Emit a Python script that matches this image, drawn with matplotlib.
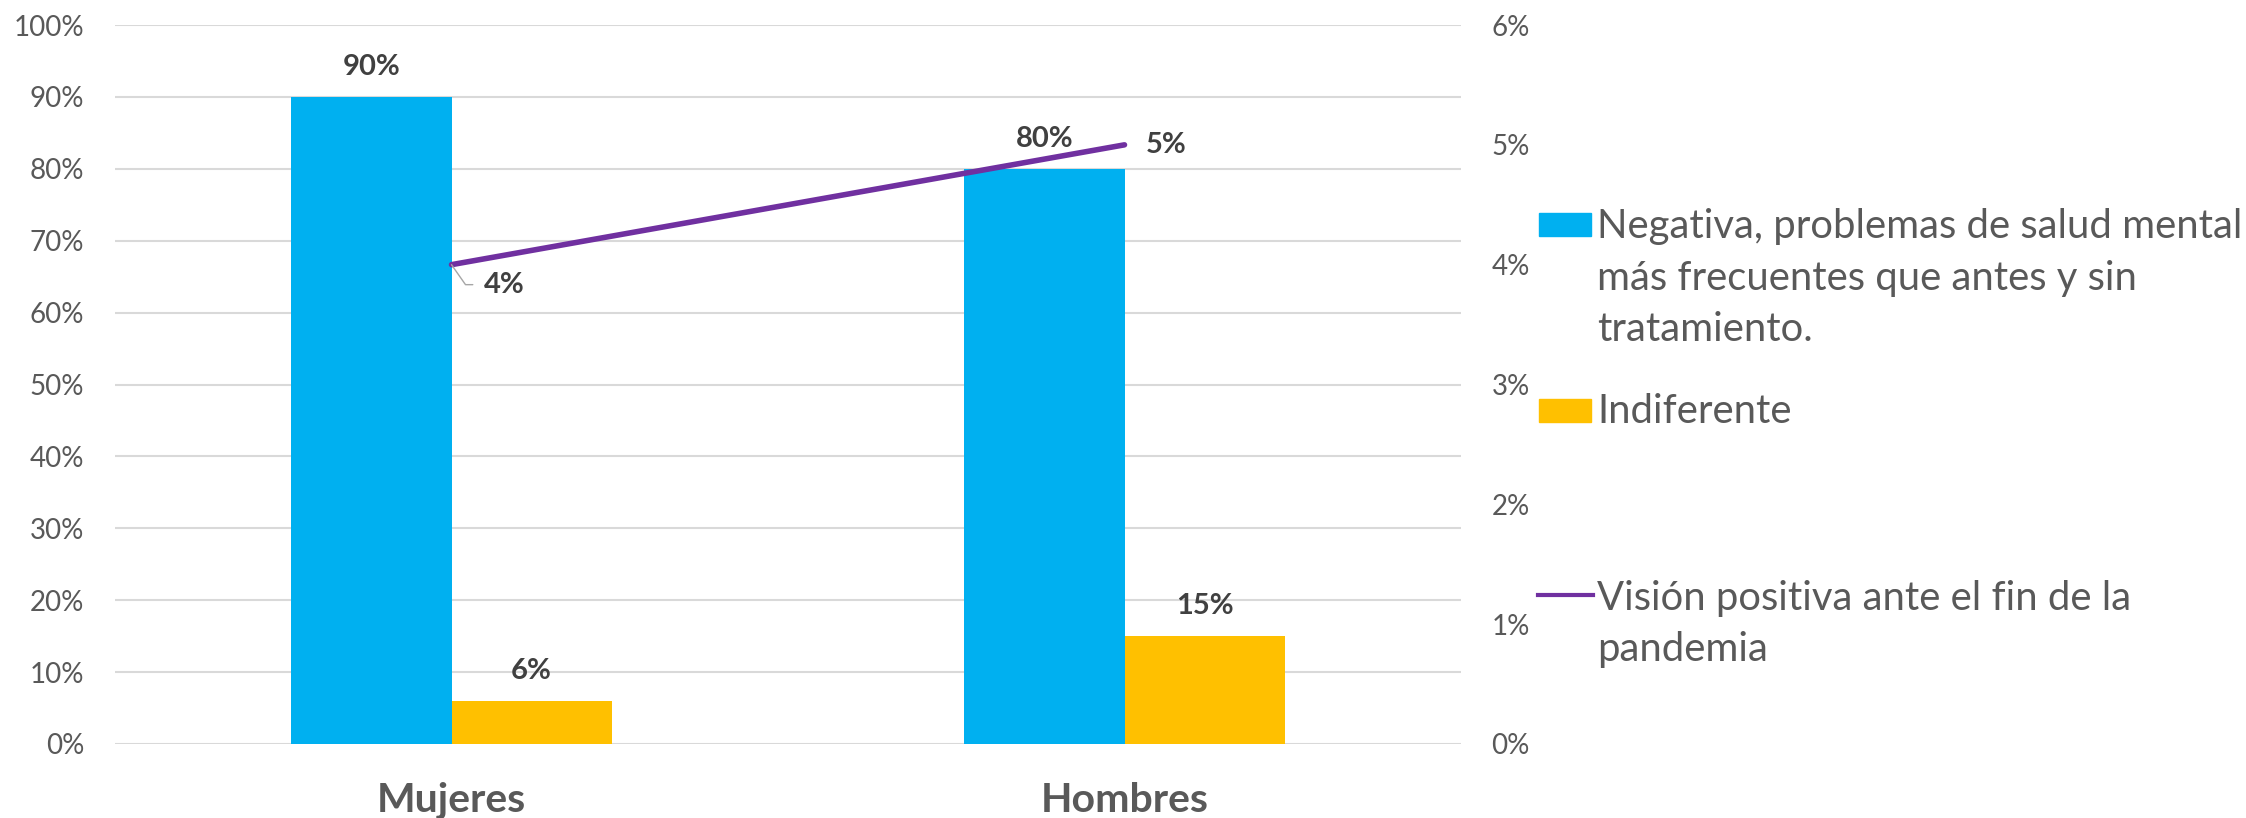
import numpy as np
import matplotlib
matplotlib.use('Agg')
import matplotlib.pyplot as plt
from matplotlib.patches import Rectangle
from matplotlib.lines import Line2D
from matplotlib.ticker import PercentFormatter

plt.rcParams['font.family'] = ['Lato', 'DejaVu Sans']

# data
categories = ['Mujeres', 'Hombres']
negativa = [0.90, 0.80]
indiferente = [0.06, 0.15]
vision_positiva = [0.04, 0.05]
series_names = ['Negativa, problemas de salud mental\nmás frecuentes que antes y sin\ntratamiento.',
                'Indiferente',
                'Visión positiva ante el fin de la\npandemia']

blue = '#00B0F0'
yellow = '#FFC000'
purple = '#7030A0'
grey_txt = '#595959'
lbl_txt = '#404040'

W, H = 2246, 818
fig = plt.figure(figsize=(W / 100, H / 100), dpi=100)
ax = fig.add_axes([115 / W, 1 - 744 / H, (1461 - 115) / W, (744 - 25) / H])

x = np.arange(len(categories))
bw = 0.238
b1 = ax.bar(x - bw / 2, negativa, bw, color=blue, zorder=2)
b2 = ax.bar(x + bw / 2, indiferente, bw, color=yellow, zorder=2)

ax.set_xlim(-0.5, 1.5)
ax.set_ylim(0, 1.0)
ax.set_yticks(np.arange(0, 1.01, 0.1))
ax.yaxis.set_major_formatter(PercentFormatter(1.0, decimals=0))
ax.grid(axis='y', color='#D9D9D9', lw=1.5, zorder=0)
ax.set_xticks(x)
ax.set_xticklabels(categories, fontsize=29.5, fontweight='bold', color=grey_txt)
ax.tick_params(axis='x', length=0, pad=27)
ax.tick_params(axis='y', length=0, pad=22, labelsize=20, labelcolor=grey_txt)
for s in ax.spines.values():
    s.set_visible(False)

for bars in (b1, b2):
    for r in bars:
        h = r.get_height()
        ax.annotate(f'{h:.0%}', (r.get_x() + r.get_width() / 2, h),
                    xytext=(0, 21.6), textcoords='offset points',
                    ha='center', va='center', fontsize=21,
                    fontweight='bold', color=lbl_txt)

ax2 = ax.twinx()
ax2.plot(x, vision_positiva, color=purple, lw=4, solid_capstyle='round', zorder=3)
ax2.set_ylim(0, 0.06)
ax2.set_yticks(np.arange(0, 0.061, 0.01))
ax2.yaxis.set_major_formatter(PercentFormatter(1.0, decimals=0))
ax2.tick_params(axis='y', length=0, pad=22, labelsize=20, labelcolor=grey_txt)
for s in ax2.spines.values():
    s.set_visible(False)

ax2.annotate(f'{vision_positiva[0]:.0%}', (x[0], vision_positiva[0]),
             xytext=(38, -14.4), textcoords='offset points',
             ha='center', va='center', fontsize=21, fontweight='bold', color=lbl_txt,
             arrowprops=dict(arrowstyle='-', color='#A6A6A6', lw=1,
                             connectionstyle='angle,angleA=0,angleB=-55',
                             relpos=(0, 0.5), shrinkA=6, shrinkB=0))
ax2.annotate(f'{vision_positiva[1]:.0%}', (x[1], vision_positiva[1]),
             xytext=(30, 0), textcoords='offset points',
             ha='center', va='center', fontsize=21, fontweight='bold', color=lbl_txt)

# legend drawn by hand to match the layout
def fx(px):
    return px / W

def fy(py):
    return 1 - py / H

fig.add_artist(Rectangle((fx(1539), fy(236)), fx(52), 23 / H, color=blue))
fig.add_artist(Rectangle((fx(1539), fy(422)), fx(52), 23 / H, color=yellow))
fig.add_artist(Line2D([fx(1538), fx(1593)], [fy(595), fy(595)], color=purple, lw=3))
# baseline of the last line of each entry
for name, ybase in zip(series_names, [341, 423, 661]):
    fig.text(fx(1597), fy(ybase), name, fontsize=28.8, color=grey_txt,
             ha='left', va='baseline', linespacing=1.48)

fig.savefig('out.png', dpi=100)
